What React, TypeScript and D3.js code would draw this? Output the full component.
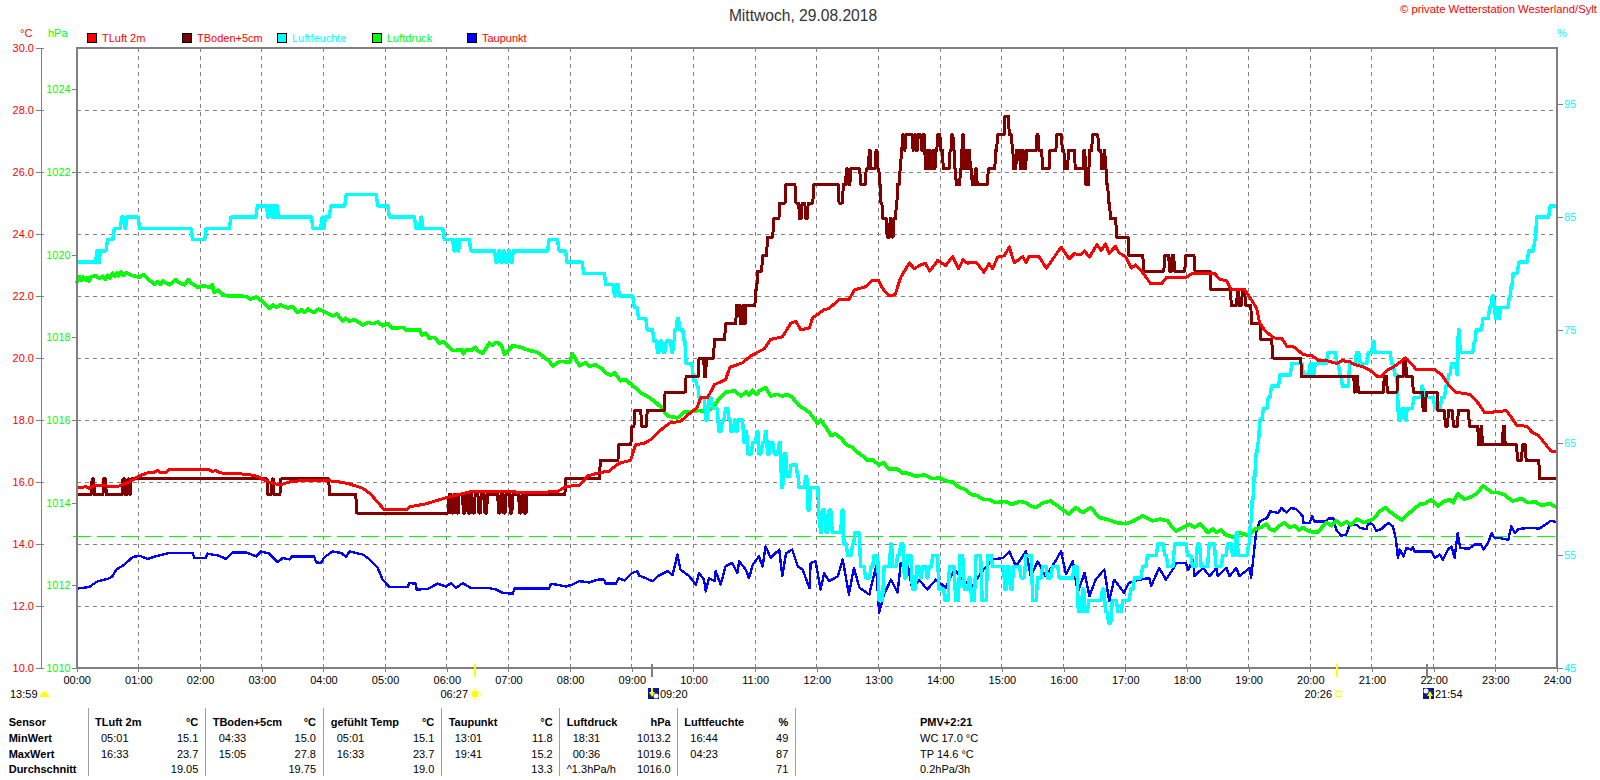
import { useEffect, useRef } from "react";
import * as d3 from "d3";

type Pt = [number, number];

// all series: [hour of day, value]
const tLuft: Pt[] = [
  [0,15.8],[.15,15.85],[.2,15.8],[.3,15.9],[.42,15.9],[.55,15.85],[.69,15.87],[.85,16.0],[1.02,16.2],[1.15,16.3],[1.25,16.3],[1.31,16.38],[1.36,16.3],[1.45,16.32],[1.5,16.4],[2.15,16.4],[2.2,16.33],[2.25,16.38],[2.31,16.3],[2.45,16.27],[2.58,16.27],[2.75,16.25],[2.9,16.2],[3.12,16.0],[3.29,15.9],[3.45,16.0],[3.66,16.05],[4.04,16.05],[4.26,16.0],[4.4,15.95],[4.64,15.8],[4.77,15.6],[4.99,15.1],[5.34,15.1],[5.4,15.2],[5.67,15.3],[5.75,15.35],[6,15.5],[6.2,15.6],[6.42,15.7],[6.85,15.7],[7.45,15.65],[7.8,15.7],[7.93,15.85],[8.15,15.9],[8.29,16.2],
  [8.47,16.3],[8.63,16.35],[8.79,16.6],[8.98,16.7],[9.06,17.2],[9.2,17.25],[9.31,17.37],[9.44,17.63],[9.61,17.9],[9.79,17.96],[9.93,18.2],[10.06,18.4],[10.12,18.74],[10.23,18.73],[10.34,19.14],[10.52,19.3],[10.59,19.7],[10.79,19.84],[10.93,20.07],[11.15,20.3],[11.25,20.6],[11.44,20.68],[11.58,21.13],[11.66,21.18],[11.74,20.91],[11.88,20.97],[11.93,21.29],[12.12,21.56],[12.2,21.6],[12.36,21.88],[12.52,21.88],[12.61,22.2],[12.79,22.3],[12.9,22.5],[13,22.5],[13.06,22.26],[13.17,22.0],[13.27,22.05],[13.36,22.6],
  [13.5,23.07],[13.58,22.88],[13.66,22.98],[13.76,23.06],[13.83,22.8],[13.96,23.15],[14.09,22.98],[14.2,23.27],[14.3,22.88],[14.37,23.17],[14.44,23.06],[14.58,23.09],[14.71,22.77],[14.79,23.04],[14.85,22.88],[14.93,23.25],[15.04,23.3],[15.12,23.58],[15.2,23.07],[15.34,23.27],[15.39,23.07],[15.44,23.27],[15.6,23.27],[15.72,22.9],[15.82,23.17],[15.96,23.58],[16.09,23.2],[16.17,23.36],[16.28,23.34],[16.34,23.45],[16.42,23.25],[16.54,23.66],[16.61,23.47],[16.68,23.68],[16.74,23.38],[16.84,23.6],[16.9,23.39],[17,23.28],[17.1,22.9],[17.17,23.0],[17.29,22.74],[17.41,22.4],[17.59,22.4],[17.67,22.6],[17.99,22.6],[18.08,22.72],[18.45,22.72],[18.54,22.53],[18.64,22.5],[18.72,22.2],[18.94,22.2],[19.08,21.77],[19.13,21.6],[19.18,21.13],[19.26,20.9],[19.4,20.65],[19.54,20.62],[19.62,20.38],[19.72,20.38],[19.89,20.1],[20.02,20.09],[20.13,19.92],[20.26,19.92],[20.43,19.82],[20.51,19.91],[20.64,19.89],[20.7,19.8],[20.86,19.71],[20.97,19.6],[21.1,19.39],[21.16,19.41],[21.24,19.6],[21.35,19.71],[21.54,20.0],[21.62,19.86],[21.72,19.62],[22.02,19.62],[22.13,19.46],[22.24,19.14],[22.35,18.9],[22.59,18.82],[22.72,18.55],[22.83,18.23],[23.18,18.3],[23.29,18.0],[23.35,17.82],[23.51,17.8],[23.6,17.6],[23.7,17.5],[23.8,17.25],[23.9,17.0],[24,17.0],
];

const tBoden: Pt[] = [
  [0,15.6],[.25,16.1],[.29,15.6],[.44,16.1],[.48,15.6],[.75,16.1],[.79,15.6],[.83,16.1],[.86,15.6],[.88,16.1],[3.1,15.6],[3.17,16.1],[3.2,15.6],[3.31,16.1],[4.1,15.6],[4.54,15],
  [6.04,15.6],[6.08,15],[6.12,15.6],[6.16,15],[6.2,15.6],[6.27,15],[6.31,15.6],[6.35,15],[6.39,15.6],[6.42,15],[6.46,15.6],[6.52,15],[6.56,15.6],[6.62,15],[6.66,15.6],[6.84,15],[6.88,15.6],[6.92,15],[6.96,15.6],[7.03,15],[7.07,15.6],[7.18,15],[7.22,15.6],[7.26,15],[7.3,15.6],[7.93,16.1],
  [8.49,16.7],[8.79,17.2],[9.0,17.8],[9.05,18.3],[9.16,17.8],[9.25,18.3],[9.54,18.9],[9.88,19.4],[10.09,20.0],[10.18,19.4],[10.21,20.0],[10.34,20.6],[10.52,21.1],[10.7,21.7],[10.76,21.1],[10.8,21.7],[10.83,21.1],[10.85,21.7],[11.01,22.2],[11.04,22.8],[11.12,23.3],[11.2,23.9],[11.3,24.5],[11.4,25.0],[11.5,25.6],[11.66,25.0],[11.72,24.5],[11.76,25.0],[11.82,24.5],[11.86,25.0],[11.95,25.6],[12.36,25.0],[12.43,25.6],[12.48,26.1],[12.52,25.6],[12.55,26.1],[12.71,25.6],[12.8,26.1],[12.85,26.7],[12.88,26.1],[12.96,26.7],[12.99,26.1],[13.02,25.6],[13.04,25.0],[13.07,24.5],[13.14,23.9],[13.19,24.5],[13.22,23.9],[13.25,24.5],[13.29,25.0],[13.31,25.6],[13.35,26.1],[13.37,26.7],[13.39,27.2],[13.42,26.7],[13.44,27.2],[13.56,26.7],[13.58,27.2],[13.61,26.7],[13.64,27.2],[13.7,26.7],[13.72,27.2],[13.76,26.1],[13.78,26.7],[13.8,26.1],[13.83,26.7],[13.85,26.1],[13.88,26.7],[13.9,26.1],[13.93,26.7],[13.96,27.2],[14.01,26.7],[14.05,26.1],[14.16,26.7],[14.19,27.2],[14.22,26.7],[14.24,26.1],[14.26,25.6],[14.33,26.1],[14.36,27.2],[14.39,26.1],[14.41,26.7],[14.44,26.1],[14.46,26.7],[14.49,26.1],[14.52,25.6],[14.57,26.1],[14.6,25.6],[14.78,26.1],[14.9,26.7],[14.93,27.2],[15.05,27.8],[15.12,27.2],[15.17,26.7],[15.19,26.1],[15.24,26.7],[15.3,26.1],[15.33,26.7],[15.36,26.1],[15.4,26.7],[15.57,27.2],[15.6,26.7],[15.66,26.1],[15.78,26.7],[15.89,27.2],[15.98,26.7],[16.02,26.1],[16.08,26.7],[16.19,26.1],[16.33,26.7],[16.36,25.6],[16.42,26.7],[16.47,27.2],[16.57,26.7],[16.62,26.1],[16.66,26.7],[16.68,26.1],[16.7,25.6],[16.73,25.0],[16.76,24.5],[16.86,23.9],[17.06,23.3],[17.3,22.8],[17.64,23.3],[17.72,22.8],[17.76,23.3],[17.8,22.8],[17.98,23.3],[18.13,22.8],[18.39,22.2],[18.72,21.7],[18.82,22.2],[18.85,21.7],[18.9,22.2],[18.95,21.7],[19.05,21.1],[19.2,20.6],[19.39,20.0],[19.86,19.4],[20.72,18.9],[20.74,19.4],[20.78,18.9],[21.2,19.4],[21.25,18.9],[21.42,19.4],[21.52,20.0],[21.56,19.4],[21.67,18.9],[21.83,18.3],[21.88,18.9],[22.07,18.3],[22.19,17.8],[22.24,18.3],[22.32,17.8],[22.4,18.3],[22.58,17.8],[22.73,17.2],[22.77,17.8],[22.79,17.2],[23.13,17.8],[23.16,17.2],[23.36,16.7],[23.44,17.2],[23.5,16.7],[23.72,16.1],[24,16.1],
];

const luftfeuchte: Pt[] = [
  [0,81],[.33,82],[.36,81],[.38,82],[.5,83],[.61,84],[.73,85],[.78,84],[.81,85],[1.02,84],[1.88,83],[2.1,84],[2.5,85],[2.93,86],[3.1,85],[3.13,86],[3.17,85],[3.19,86],[3.22,85],[3.24,86],[3.27,85],[3.83,84],[3.98,85],[4.0,84],[4.03,85],[4.12,86],[4.37,87],[4.88,86],[5.07,85],[5.5,84],[5.58,85],[5.61,84],[5.96,83],[6.12,82],[6.15,83],[6.18,82],[6.21,83],[6.39,82],[6.8,81],[6.84,82],[6.88,81],[6.92,82],[6.96,81],[7.0,82],[7.04,81],[7.08,82],[7.66,83],[7.82,82],[7.95,81],[8.22,80],[8.58,79],[8.72,78],[8.74,79],[8.8,78],[9.04,77],[9.11,76],[9.25,75],[9.36,74],[9.42,73],[9.46,74],[9.51,73],[9.56,74],[9.65,73],[9.68,74],[9.7,75],[9.74,76],[9.78,75],[9.85,74],[9.88,72],[10,70.5],[10.06,70],[10.09,69],[10.2,67],[10.25,69],[10.31,68],[10.41,66],[10.47,67],[10.52,68],[10.58,67],[10.61,66],[10.67,67],[10.7,66],[10.72,67],[10.82,65],[10.85,66],[10.88,64],[10.96,65],[11.03,66],[11.06,64],[11.12,65],[11.17,66],[11.2,64],[11.25,65],[11.31,64],[11.39,65],[11.43,61],[11.47,64],[11.52,62],[11.58,63],[11.69,62],[11.71,61],[11.82,62],[11.86,59],[11.9,61],[12.04,58],[12.06,57],[12.09,59],[12.15,57],[12.2,59],[12.25,57],[12.41,59],[12.44,56],[12.5,55],[12.58,56],[12.62,57],[12.71,54],[12.79,53],[12.88,54],[12.93,55],[13.01,51],[13.09,54],[13.2,56],[13.23,54],[13.31,55],[13.36,56],[13.42,53],[13.47,55],[13.55,52],[13.62,54],[13.68,53],[13.71,54],[13.79,53],[13.82,54],[13.88,55],[13.98,52],[14.08,51],[14.15,54],[14.25,51],[14.32,55],[14.39,52],[14.47,53],[14.51,51],[14.58,55],[14.68,51],[14.77,55],[14.85,54],[15.05,52],[15.09,54],[15.14,52],[15.19,54],[15.31,53],[15.39,55],[15.5,51],[15.58,53],[15.66,54],[15.74,53],[15.82,54],[15.93,53],[16.17,54],[16.24,50],[16.31,52],[16.35,50],[16.41,51],[16.63,52],[16.68,50],[16.73,49],[16.79,51],[16.88,50],[16.96,51],[17.09,52],[17.15,53],[17.28,54],[17.36,55],[17.53,56],[17.64,55],[17.69,54],[17.8,56],[18.01,55],[18.09,54],[18.17,56],[18.23,54],[18.36,56],[18.47,54],[18.58,55],[18.66,56],[18.74,55],[18.8,57],[18.83,55],[19.0,56],[19.03,58],[19.06,60],[19.09,62],[19.12,64],[19.15,65],[19.18,67],[19.24,68],[19.32,69],[19.37,70],[19.51,71],[19.7,72],[19.89,71],[20,72],[20.04,71],[20.08,72],[20.29,73],[20.43,72],[20.48,71],[20.52,70],[20.64,72],[20.75,73],[20.81,72],[20.94,73],[21.02,74],[21.05,73],[21.32,72],[21.37,71],[21.43,67],[21.49,68],[21.54,67],[21.57,68],[21.68,69],[21.81,70],[21.84,69],[22.02,68],[22.13,69],[22.2,70],[22.24,71],[22.29,72],[22.38,71],[22.4,75],[22.43,73],[22.66,74],[22.69,75],[22.8,76],[22.91,77],[22.95,78],[22.99,77],[23,76],[23.03,77],[23.06,76],[23.08,77],[23.23,78],[23.26,79],[23.29,80],[23.38,81],[23.54,82],[23.64,83],[23.67,85],[23.89,86],[24,86],
];

const luftdruck: Pt[] = [
  [0,1019.31],[.04,1019.47],[.08,1019.38],[.11,1019.46],[.15,1019.38],[.18,1019.45],[.2,1019.36],[.24,1019.47],[.31,1019.49],[.37,1019.42],[.42,1019.48],[.46,1019.4],[.5,1019.5],[.54,1019.44],[.58,1019.55],[.62,1019.48],[.65,1019.56],[.68,1019.49],[.72,1019.58],[.76,1019.5],[.8,1019.56],[.9,1019.5],[1.02,1019.45],[1.08,1019.52],[1.15,1019.42],[1.26,1019.28],[1.31,1019.35],[1.36,1019.28],[1.4,1019.36],[1.5,1019.27],[1.61,1019.4],[1.66,1019.32],[1.75,1019.27],[1.81,1019.4],[1.85,1019.32],[1.96,1019.21],[2.06,1019.25],[2.18,1019.2],[2.2,1019.28],[2.23,1019.09],[2.3,1019.14],[2.39,1019.01],[2.75,1018.99],[2.82,1018.92],[2.91,1018.98],[3.0,1018.88],[3.12,1018.7],[3.18,1018.78],[3.24,1018.72],[3.3,1018.79],[3.42,1018.71],[3.5,1018.75],[3.58,1018.6],[3.65,1018.67],[3.7,1018.6],[3.75,1018.68],[3.85,1018.6],[3.92,1018.68],[3.99,1018.64],[4.15,1018.52],[4.22,1018.56],[4.31,1018.4],[4.36,1018.46],[4.42,1018.39],[4.5,1018.43],[4.64,1018.3],[4.72,1018.36],[4.8,1018.33],[4.88,1018.37],[4.96,1018.28],[5.05,1018.33],[5.12,1018.22],[5.29,1018.24],[5.34,1018.18],[5.56,1018.18],[5.6,1018.06],[5.66,1018.1],[5.72,1017.98],[5.8,1018.0],[5.88,1017.86],[5.94,1017.9],[6.02,1017.78],[6.1,1017.68],[6.25,1017.7],[6.27,1017.6],[6.31,1017.7],[6.42,1017.7],[6.46,1017.76],[6.5,1017.68],[6.58,1017.61],[6.69,1017.86],[6.74,1017.8],[6.8,1017.88],[6.88,1017.82],[6.94,1017.59],[7.07,1017.8],[7.2,1017.76],[7.34,1017.68],[7.42,1017.66],[7.5,1017.61],[7.58,1017.52],[7.66,1017.42],[7.72,1017.31],[7.83,1017.42],[7.99,1017.4],[8.04,1017.6],[8.15,1017.31],[8.25,1017.38],[8.31,1017.29],
  [8.4,1017.34],[8.52,1017.24],[8.58,1017.14],[8.66,1017.08],[8.72,1017.14],[8.82,1016.95],[8.9,1016.98],[9.01,1016.83],[9.08,1016.76],[9.15,1016.65],[9.22,1016.6],[9.31,1016.51],[9.38,1016.44],[9.47,1016.31],[9.58,1016.1],[9.74,1016.05],[9.85,1016.19],[10.09,1016.23],[10.2,1016.2],[10.31,1016.29],[10.4,1016.48],[10.52,1016.67],[10.66,1016.71],[10.77,1016.58],[10.86,1016.68],[10.9,1016.6],[10.96,1016.72],[11.02,1016.62],[11.08,1016.72],[11.17,1016.78],[11.25,1016.58],[11.36,1016.62],[11.44,1016.58],[11.52,1016.62],[11.6,1016.55],[11.71,1016.35],[11.8,1016.27],[11.88,1016.18],[11.95,1016.04],[12.01,1015.92],[12.06,1016.0],[12.15,1015.82],[12.23,1015.62],[12.3,1015.66],[12.39,1015.56],[12.5,1015.38],[12.58,1015.34],[12.69,1015.18],[12.75,1015.12],[12.82,1015.02],[12.9,1015.04],[13.01,1014.91],[13.08,1014.97],[13.17,1014.81],[13.3,1014.82],[13.38,1014.72],[13.45,1014.72],[13.6,1014.64],[13.75,1014.67],[13.88,1014.58],[14,1014.6],[14.1,1014.52],[14.2,1014.5],[14.3,1014.38],[14.4,1014.32],[14.5,1014.2],[14.6,1014.17],[14.7,1014.08],[14.79,1014.08],[14.9,1014.0],[15.05,1014.03],[15.17,1013.96],[15.28,1014.03],[15.39,1014.0],[15.47,1013.92],[15.55,1013.88],[15.67,1014.0],[15.79,1014.04],[15.92,1013.9],[16.09,1013.72],[16.2,1013.88],[16.31,1013.76],[16.44,1013.88],[16.58,1013.64],[16.7,1013.6],[16.85,1013.52],[17.01,1013.49],[17.14,1013.56],[17.28,1013.68],[17.44,1013.56],[17.56,1013.6],[17.69,1013.56],[17.75,1013.42],[17.82,1013.31],[17.93,1013.4],[18.04,1013.48],[18.12,1013.4],[18.21,1013.48],[18.34,1013.28],[18.42,1013.36],[18.48,1013.28],[18.55,1013.34],[18.61,1013.24],[18.75,1013.16],[18.85,1013.28],[18.99,1013.2],[19.1,1013.36],[19.2,1013.4],[19.29,1013.48],[19.35,1013.36],[19.42,1013.32],[19.5,1013.44],[19.58,1013.52],[19.66,1013.4],[19.75,1013.44],[19.82,1013.34],[19.88,1013.4],[19.99,1013.3],[20.12,1013.28],[20.26,1013.52],[20.34,1013.44],[20.42,1013.56],[20.5,1013.46],[20.58,1013.54],[20.66,1013.46],[20.75,1013.6],[20.88,1013.52],[21.02,1013.6],[21.13,1013.8],[21.22,1013.88],[21.34,1013.72],[21.48,1013.58],[21.58,1013.72],[21.68,1013.84],[21.77,1013.96],[21.86,1013.98],[21.96,1014.07],[22.07,1013.92],[22.16,1014.02],[22.26,1014.08],[22.32,1014.0],[22.39,1014.21],[22.5,1014.08],[22.64,1014.16],[22.72,1014.25],[22.8,1014.41],[22.94,1014.25],[23.05,1014.24],[23.15,1014.19],[23.22,1014.1],[23.29,1014.04],[23.42,1014.1],[23.53,1014.0],[23.65,1014.02],[23.75,1013.93],[23.88,1013.98],[24,1013.88],
];

const taupunkt: Pt[] = [
  [0,12.56],[.2,12.61],[.34,12.8],[.5,12.87],[.58,12.96],[.64,13.17],[.77,13.33],[.91,13.58],[1.02,13.62],[1.15,13.52],[1.31,13.62],[1.5,13.71],[1.88,13.71],[1.91,13.55],[2.09,13.55],[2.12,13.69],[2.31,13.62],[2.42,13.52],[2.53,13.73],[2.75,13.73],[2.91,13.6],[2.99,13.76],[3.12,13.69],[3.26,13.41],[3.34,13.55],[3.45,13.5],[3.49,13.6],[3.85,13.6],[3.88,13.41],[3.96,13.39],[4.02,13.58],[4.15,13.76],[4.29,13.71],[4.37,13.58],[4.42,13.76],[4.64,13.66],[4.75,13.5],[4.88,13.23],[4.96,12.85],[5.07,12.61],[5.37,12.61],[5.39,12.74],[5.5,12.72],[5.51,12.53],[5.69,12.55],[5.85,12.72],[5.99,12.63],[6.07,12.74],[6.15,12.58],[6.26,12.74],[6.39,12.58],[6.69,12.58],[6.8,12.53],[6.91,12.42],[7.07,12.4],[7.1,12.56],[7.66,12.56],[7.69,12.72],[7.93,12.63],[8.04,12.69],[8.15,12.8],[8.31,12.76],
  [8.45,12.85],[8.55,12.85],[8.58,12.72],[8.74,12.72],[8.79,12.9],[8.88,12.82],[9.0,13.06],[9.09,13.12],[9.12,12.98],[9.34,12.8],[9.42,12.96],[9.58,13.12],[9.66,13.0],[9.74,13.66],[9.79,13.17],[9.93,12.96],[10.04,12.69],[10.09,13.06],[10.17,12.85],[10.2,12.47],[10.25,12.9],[10.34,12.8],[10.36,13.12],[10.44,12.69],[10.52,13.28],[10.63,13.39],[10.71,13.06],[10.74,13.44],[10.85,13.17],[10.9,12.9],[10.96,13.33],[11.06,13.6],[11.12,13.28],[11.17,13.92],[11.25,13.55],[11.39,13.82],[11.44,12.96],[11.5,13.7],[11.6,13.82],[11.69,13.28],[11.77,13.17],[11.88,12.58],[11.9,13.39],[11.98,13.44],[12.06,12.53],[12.12,13.06],[12.2,12.8],[12.34,12.96],[12.42,13.5],[12.52,12.37],[12.6,13.23],[12.69,12.59],[12.85,12.37],[12.96,13.28],[13.01,11.79],[13.09,12.37],[13.2,12.85],[13.31,12.43],[13.36,13.39],[13.47,13.34],[13.55,12.53],[13.66,12.85],[13.79,12.53],[13.93,12.85],[14.09,12.59],[14.23,13.18],[14.36,12.85],[14.52,12.64],[14.68,13.12],[14.85,13.5],[15.02,13.55],[15.12,13.76],[15.23,13.28],[15.39,13.76],[15.47,12.96],[15.58,13.44],[15.71,12.96],[15.85,13.39],[15.96,13.76],[16.04,13.02],[16.15,13.44],[16.23,12.43],[16.34,13.07],[16.42,12.32],[16.52,12.85],[16.66,13.18],[16.74,12.16],[16.82,12.85],[16.98,12.43],[17.06,12.75],[17.23,12.85],[17.39,12.9],[17.42,12.64],[17.55,13.23],[17.66,12.85],[17.77,13.18],[17.83,13.39],[17.98,13.39],[18.02,13.17],[18.1,13.49],[18.12,12.96],[18.26,13.23],[18.37,12.96],[18.48,13.23],[18.5,12.96],[18.64,13.23],[18.69,12.96],[18.8,13.23],[18.85,12.96],[19.02,13.23],[19.04,12.9],[19.08,13.6],[19.12,14.35],[19.18,14.73],[19.3,14.84],[19.35,15.05],[19.48,15.0],[19.53,15.16],[19.61,15.02],[19.69,15.16],[19.77,15.13],[19.88,14.89],[19.89,14.68],[19.99,14.68],[20.03,14.89],[20.07,14.73],[20.26,14.73],[20.29,14.82],[20.38,14.82],[20.42,14.46],[20.5,14.27],[20.58,14.3],[20.64,14.62],[20.75,14.62],[20.8,14.52],[20.91,14.48],[20.94,14.68],[21.02,14.62],[21.07,14.43],[21.15,14.48],[21.26,14.68],[21.34,14.57],[21.39,14.14],[21.42,13.55],[21.45,13.82],[21.51,13.6],[21.56,13.87],[21.64,13.82],[21.66,13.9],[21.69,13.76],[21.96,13.76],[22.02,13.55],[22.1,13.66],[22.15,13.49],[22.23,13.82],[22.29,13.92],[22.34,13.55],[22.39,14.35],[22.43,13.87],[22.58,13.85],[22.66,13.98],[22.77,13.98],[22.81,13.82],[22.88,14.03],[22.94,14.35],[22.99,14.19],[23.07,14.19],[23.21,14.14],[23.26,14.57],[23.32,14.35],[23.37,14.48],[23.53,14.52],[23.72,14.5],[23.9,14.75],[24,14.7],
];

const minDruck = 1013.18;

const tempTicks = d3.range(10, 31, 2);
const druckTicks = d3.range(1010, 1025, 2);
const feuchteTicks = [45, 55, 65, 75, 85, 95];
const hourTicks = d3.range(0, 25);

const legendItems = [
  { label: "TLuft 2m", swatch: "#ff0000", text: "#ff0000" },
  { label: "TBoden+5cm", swatch: "#800000", text: "#ff0000" },
  { label: "Luftfeuchte", swatch: "#00ffff", text: "#00ffff" },
  { label: "Luftdruck", swatch: "#00ff00", text: "#00ff00" },
  { label: "Taupunkt", swatch: "#0000ff", text: "#ff0000" },
];

const tableHeads = [
  ["TLuft 2m", "°C"],
  ["TBoden+5cm", "°C"],
  ["gefühlt Temp", "°C"],
  ["Taupunkt", "°C"],
  ["Luftdruck", "hPa"],
  ["Luftfeuchte", "%"],
];
const minRow = [["05:01", "15.1"], ["04:33", "15.0"], ["05:01", "15.1"], ["13:01", "11.8"], ["18:31", "1013.2"], ["16:44", "49"]];
const maxRow = [["16:33", "23.7"], ["15:05", "27.8"], ["16:33", "23.7"], ["19:41", "15.2"], ["00:36", "1019.6"], ["04:23", "87"]];
const avgRow = [["", "19.05"], ["", "19.75"], ["", "19.0"], ["", "13.3"], ["^1.3hPa/h", "1016.0"], ["", "71"]];
const rowLabels = ["Sensor", "MinWert", "MaxWert", "Durchschnitt"];
const pmvLines = ["WC 17.0 °C", "TP 14.6 °C", "0.2hPa/3h"];

const FONT = "'Liberation Sans', Arial, sans-serif";
const GREY = "#808080";

// level readings hold until the next one, then move over a short ramp
function holdLevels(data: Pt[], ramp: number): Pt[] {
  const out: Pt[] = [];
  data.forEach((d, i) => {
    out.push(d);
    const next = data[i + 1];
    if (next) out.push([next[0] - Math.min(ramp, (next[0] - d[0]) * 0.6), d[1]]);
  });
  return out;
}

export default function App() {
  const svgRef = useRef<SVGSVGElement>(null);

  useEffect(() => {
    if (!svgRef.current) return;
    const svg = d3.select(svgRef.current);
    svg.selectAll("*").remove();

    const left = 76.7, right = 1557, top = 48, bottom = 668;
    const x = d3.scaleLinear().domain([0, 24]).range([left, right]);
    const yT = d3.scaleLinear().domain([10, 30]).range([bottom, top]);
    const yP = d3.scaleLinear().domain([1010, 1025]).range([bottom, top]);
    const yH = d3.scaleLinear().domain([45, 100]).range([bottom, top]);

    const text = (g: any, tx: number, ty: number, s: string, color = "#000", anchor = "start", size = 11, weight = "normal") =>
      g.append("text").attr("x", tx).attr("y", ty).attr("fill", color).attr("text-anchor", anchor)
        .attr("font-size", size).attr("font-weight", weight).attr("font-family", FONT)
        .attr("dominant-baseline", "central").text(s);

    // grid
    const grid = svg.append("g").attr("stroke", GREY).attr("stroke-dasharray", "4 4").attr("shape-rendering", "crispEdges");
    grid.selectAll("line.h").data(tempTicks.slice(1, -1)).enter().append("line").attr("class", "h")
      .attr("x1", left).attr("x2", right).attr("y1", (d) => yT(d)).attr("y2", (d) => yT(d));
    grid.selectAll("line.v").data(hourTicks.slice(1, -1)).enter().append("line").attr("class", "v")
      .attr("y1", top).attr("y2", bottom).attr("x1", (d) => x(d)).attr("x2", (d) => x(d));

    // min pressure marker
    svg.append("line").attr("x1", 73).attr("x2", right).attr("y1", yP(minDruck)).attr("y2", yP(minDruck))
      .attr("stroke", "#00ff00").attr("stroke-dasharray", "18 6").attr("shape-rendering", "crispEdges");

    // series
    const draw = (data: Pt[], y: any, color: string, width: number) => {
      const line = d3.line<Pt>().x((d) => x(d[0])).y((d) => y(d[1]));
      svg.append("path").datum(data).attr("d", line).attr("fill", "none").attr("stroke", color)
        .attr("stroke-width", width).attr("stroke-linejoin", "round").attr("shape-rendering", "crispEdges");
    };
    draw(taupunkt, yT, "#0000ff", 2.4);
    draw(luftdruck, yP, "#00ff00", 3.6);
    draw(holdLevels(luftfeuchte, 0.025), yH, "#00ffff", 3.4);
    draw(holdLevels(tBoden, 0.015), yT, "#800000", 3);
    draw(tLuft, yT, "#ff0000", 3);

    // frame
    svg.append("rect").attr("x", left).attr("y", top).attr("width", right - left).attr("height", bottom - top)
      .attr("fill", "none").attr("stroke", GREY).attr("stroke-width", 2).attr("shape-rendering", "crispEdges");

    // axes
    const styleAxis = (g: any, color: string) => {
      g.select(".domain").attr("stroke", GREY);
      g.selectAll(".tick line").attr("stroke", GREY);
      g.selectAll("text").attr("fill", color).attr("font-size", 11).attr("font-family", FONT);
      g.attr("shape-rendering", "crispEdges");
    };
    const axT = svg.append("g").attr("transform", "translate(41,0)")
      .call(d3.axisLeft(yT).tickValues(tempTicks).tickSize(5).tickPadding(2).tickFormat((d) => (d as number).toFixed(1)));
    styleAxis(axT, "#ff0000");
    axT.selectAll(".tick line").attr("x2", 3).attr("x1", -5);
    const axP = svg.append("g").attr("transform", `translate(${left},0)`)
      .call(d3.axisLeft(yP).tickValues(druckTicks).tickSize(5).tickPadding(1).tickFormat((d) => String(d)));
    axP.select(".domain").remove();
    styleAxis(axP, "#00ff00");
    const axH = svg.append("g").attr("transform", `translate(${right},0)`)
      .call(d3.axisRight(yH).tickValues(feuchteTicks).tickSize(6).tickPadding(1).tickFormat((d) => String(d)));
    axH.select(".domain").remove();
    styleAxis(axH, "#00ffff");
    const axX = svg.append("g").attr("transform", `translate(0,${bottom})`)
      .call(d3.axisBottom(x).tickValues(hourTicks).tickSize(4).tickPadding(4)
        .tickFormat((d) => `${String(d).padStart(2, "0")}:00`));
    axX.select(".domain").remove();
    styleAxis(axX, "#000");

    // header
    text(svg, 803, 15.5, "Mittwoch, 29.08.2018", "#333", "middle", 15.6);
    text(svg, 1597, 9, "© private Wetterstation Westerland/Sylt", "#ff0000", "end", 11.3);
    text(svg, 20, 32.5, "°C", "#ff0000");
    text(svg, 48, 32.5, "hPa", "#00ff00");
    text(svg, 1557, 32.5, "%", "#00ffff");
    legendItems.forEach((d, i) => {
      const lx = 87.5 + i * 95;
      svg.append("rect").attr("x", lx).attr("y", 33.5).attr("width", 9).attr("height", 9).attr("fill", d.swatch)
        .attr("stroke", "#000").attr("shape-rendering", "crispEdges");
      text(svg, lx + 14.5, 38, d.label, d.text);
    });

    // sun and moon markers under the time axis
    const tick = (h: number, color: string) =>
      svg.append("line").attr("x1", x(h)).attr("x2", x(h)).attr("y1", 664).attr("y2", 677).attr("stroke", color)
        .attr("stroke-width", 2).attr("shape-rendering", "crispEdges");
    const moon = (ix: number, iy: number, up: boolean) => {
      svg.append("rect").attr("x", ix).attr("y", iy).attr("width", 11).attr("height", 11).attr("fill", "#0a1a8c");
      svg.append("circle").attr("cx", ix + (up ? 3 : 8)).attr("cy", iy + (up ? 3 : 8)).attr("r", 2.5).attr("fill", "#fff");
      svg.append("path").attr("fill", "#ffff00")
        .attr("d", up ? `M${ix + 7} ${iy + 3}l3 5h-2v3h-2v-3h-2z` : `M${ix + 3} ${iy}h2v4h2l-3 5l-3 -5h2z`);
    };
    text(svg, 10, 694, "13:59");
    svg.append("path").attr("d", "M40 697a4.5 5 0 0 1 9 0z").attr("fill", "#ffff00");
    tick(6.45, "#ffff00");
    text(svg, 468, 694, "06:27", "#000", "end");
    svg.append("circle").attr("cx", 475).attr("cy", 694).attr("r", 3.5).attr("fill", "#ffff00");
    svg.append("circle").attr("cx", 475).attr("cy", 694).attr("r", 5.5).attr("fill", "none").attr("stroke", "#ffff00").attr("stroke-dasharray", "1.5 1.5");
    tick(9.33, GREY);
    moon(648, 688, false);
    text(svg, 660, 694, "09:20");
    tick(20.43, "#ffff00");
    text(svg, 1332, 694, "20:26", "#000", "end");
    svg.append("rect").attr("x", 1336).attr("y", 691.5).attr("width", 5).attr("height", 5).attr("fill", "#fff").attr("stroke", "#ffff00");
    tick(21.9, GREY);
    moon(1423, 688, true);
    text(svg, 1435, 694, "21:54");

    // stats table
    const rowY = [721.7, 737.7, 753.7, 769];
    const colL = [95, 212.7, 330.7, 448.7, 566.7, 684.3];
    const colR = [198.3, 316, 434.3, 552.7, 670.7, 788.3];
    const seps = [88.7, 205.7, 323.3, 441.7, 559.3, 677.3, 795.3];
    seps.forEach((s) => {
      svg.append("line").attr("x1", s).attr("x2", s).attr("y1", 708).attr("y2", 776).attr("stroke", "#a0a0a0").attr("stroke-width", 1).attr("shape-rendering", "crispEdges");
    });
    rowLabels.forEach((s, i) => text(svg, 8.7, rowY[i], s, "#000", "start", 11, "bold"));
    tableHeads.forEach((d, i) => {
      text(svg, colL[i], rowY[0], d[0], "#000", "start", 11, "bold");
      text(svg, colR[i], rowY[0], d[1], "#000", "end", 11, "bold");
    });
    [minRow, maxRow, avgRow].forEach((row, r) => {
      row.forEach((d, i) => {
        text(svg, d[0].startsWith("^") ? colL[i] : colL[i] + 6, rowY[r + 1], d[0]);
        text(svg, colR[i], rowY[r + 1], d[1], "#000", "end");
      });
    });
    text(svg, 920, rowY[0], "PMV+2:21", "#000", "start", 11, "bold");
    pmvLines.forEach((s, i) => text(svg, 920, rowY[i + 1], s));
  }, []);

  return (
    <svg
      ref={svgRef}
      width={1600}
      height={780}
      style={{ position: "absolute", left: 0, top: 0, background: "#fff", display: "block" }}
    />
  );
}
